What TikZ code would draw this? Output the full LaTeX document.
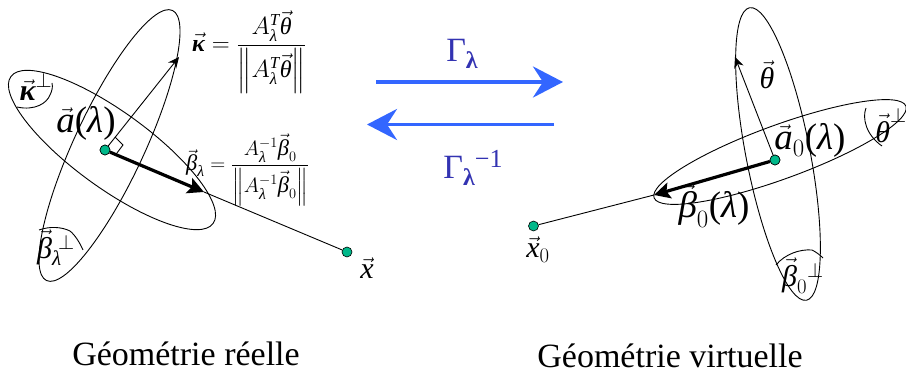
\documentclass[tikz,border=0pt]{standalone}
\usepackage{amsmath}
\usepackage{fontspec}
\setmainfont{Liberation Serif}
\usetikzlibrary{arrows.meta}
\definecolor{dotgreen}{HTML}{00B88A}
\definecolor{arrowblue}{HTML}{3366FF}
\definecolor{gammablue}{HTML}{3333B2}
\newcommand{\ti}[1]{\text{\itshape #1}}
\newcommand{\vc}[1]{\vec{\ti{#1}}}
\newcommand{\lam}{\ti{λ}}
\newcommand{\plam}{\text{(}\lam\text{)}}
\newcommand{\bet}{\vc{β}}
\newcommand{\tht}{\vc{θ}}
\newcommand{\kap}{\vec{\text{\bfseries\itshape κ}}}
\newcommand{\nrm}[1]{\left\|#1\right\|}
\tikzset{
  outline/.style={draw=black,line width=0.9pt},
  thinvec/.style={draw=black,line width=0.9pt,-{Stealth[length=11pt,width=10pt]}},
  thickvec/.style={draw=black,line width=3.2pt,-{Stealth[length=16pt,width=16pt,inset=3pt]}},
  blueR/.style={draw=arrowblue,line width=3.8pt,-{Stealth[length=30pt,width=31pt,inset=10pt]}},
  dot/.style={circle,draw=black,line width=0.6pt,fill=dotgreen,minimum size=10pt,inner sep=0pt},
  math/.style={inner sep=0pt,font=\fontsize{30}{34}\selectfont},
  big/.style={inner sep=0pt,font=\fontsize{37}{40}\selectfont},
  frac/.style={inner sep=0pt,font=\fontsize{23}{27}\selectfont},
  caption/.style={inner sep=0pt,font=\fontsize{34}{38}\selectfont},
  gam/.style={inner sep=0pt,text=gammablue,font=\fontsize{34}{38}\selectfont}
}
\begin{document}
\begin{tikzpicture}[x=1pt,y=-1pt]
\useasboundingbox (0,0) rectangle (906,374);
% left ellipses
\draw[outline,rotate around={65:(109.5,145.5)}] (109.5,145.5) ellipse [x radius=149,y radius=35];
\draw[outline,rotate around={-36:(112,150)}] (112,150) ellipse [x radius=125,y radius=38];
% right ellipses
\draw[outline,rotate around={-79:(778,154)}] (778,154) ellipse [x radius=149,y radius=32];
\begin{scope}
\clip (0,0) rectangle (906,374);
\draw[outline,rotate around={20:(780,152)}] (780,152) ellipse [x radius=134,y radius=27];
\end{scope}
% caps
\draw[outline] (17,107) .. controls (35,111) and (47,103) .. (50,95) .. controls (52,91) and (53,87) .. (52,83);
\draw[outline] (39,230) .. controls (50,226) and (62,227) .. (70,231) .. controls (75,235) and (80,243) .. (83,250);
\draw[outline] (866,108) .. controls (862,118) and (866,135) .. (882,146);
\draw[outline] (776,265) .. controls (785,254) and (800,249) .. (812,250) .. controls (816,252) and (820,255) .. (823,258);
% points
\node[dot] (a) at (105,150) {};
\node[dot] (x) at (347,252) {};
\node[dot] (a0) at (775,160) {};
\node[dot] (x0) at (533.5,226) {};
\coordinate (kappaTip) at (179,57);
\coordinate (betaTip) at (204,192);
\coordinate (thetaTip) at (735,57);
\coordinate (beta0Tip) at (654,195);
% right angle
\draw[outline] (115,137) -- (123,145) -- (117,153);
% connectors
\draw[outline] (betaTip) -- (x);
\draw[outline] (beta0Tip) -- (x0);
\draw[thinvec] (a) -- (kappaTip);
\draw[thinvec] (a0) -- (thetaTip);
\draw[thickvec] (a) -- (betaTip);
\draw[thickvec] (a0) -- (beta0Tip);
\node[dot] at (a) {};
\node[dot] at (a0) {};
% blue arrows
\coordinate (r1) at (376,82); \coordinate (r2) at (563,82);
\coordinate (l1) at (554,124.5); \coordinate (l2) at (367,124.5);
\draw[blueR] (r1) -- (r2);
\draw[blueR] (l1) -- (l2);
\node[gam,anchor=base] (g1) at (462,62) {Γ\raisebox{-7pt}{\fontsize{24}{24}\selectfont\bfseries λ}};
\node[gam,anchor=base] (g2) at (473,179) {Γ\raisebox{-7pt}{\fontsize{24}{24}\selectfont\bfseries λ}\raisebox{11pt}{\fontsize{26}{26}\selectfont −1}};
% captions
\node[caption,anchor=base] (cl) at (186,366) {Géométrie réelle};
\node[caption,anchor=base] (cr) at (670,367) {Géométrie virtuelle};
% labels left
\node[math] (lkp) at (36,87) {$\kap^{\perp}$};
\node[big] (la) at (86,123) {$\vc{a}\plam$};
\node[math] (lbp) at (56,248) {$\bet_{\lam}{}^{\!\perp}$};
\node[math] (lx) at (367,268) {$\vc{x}$};
\node[frac,anchor=west,font=\fontsize{24}{28}\selectfont] (fk) at (192,52) {$\kap=\dfrac{A_{\lam}^{\ti{T}}\tht}{\nrm{A_{\lam}^{\ti{T}}\tht}}$};
\node[frac,anchor=west,font=\fontsize{22.5}{26}\selectfont] (fb) at (186,170) {$\bet_{\lam}=\dfrac{A_{\lam}^{-1}\bet_{0}}{\nrm{A_{\lam}^{-1}\bet_{0}}}$};
% labels right
\node[math] (lt) at (767,75) {$\tht$};
\node[big] (la0) at (810,140) {$\vc{a}_{0}\plam$};
\node[big] (lb0) at (714,206) {$\bet_{0}\plam$};
\node[math] (lx0) at (538,250) {$\vc{x}_{0}$};
\node[math] (ltp) at (891,125) {$\tht^{\perp}$};
\node[math] (lbp0) at (803,276) {$\bet_{0}{}^{\perp}$};
\end{tikzpicture}
\end{document}
